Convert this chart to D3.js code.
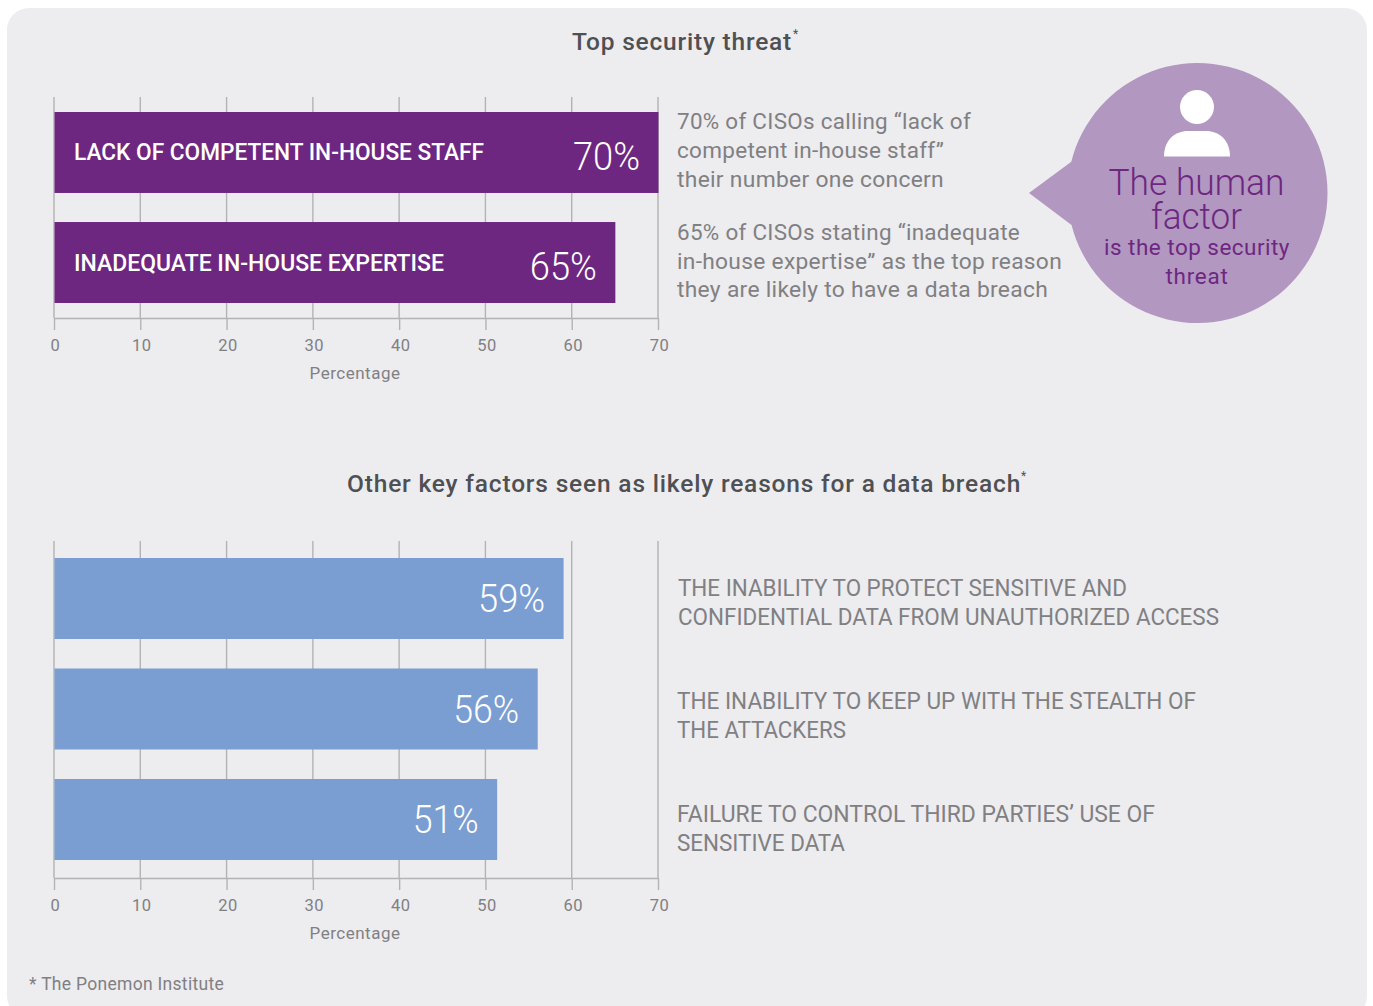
<!DOCTYPE html>
<html><head><meta charset="utf-8">
<script src="https://cdn.jsdelivr.net/npm/d3@7"></script>
<style>html,body{margin:0;padding:0;background:#fff}svg{display:block}text{font-family:Roboto,sans-serif}</style>
</head><body><svg id="c" width="1373" height="1006"></svg>
<script>
const topCategories=["LACK OF COMPETENT IN-HOUSE STAFF","INADEQUATE IN-HOUSE EXPERTISE"];
const topValues=[70,65];
const otherCategories=["THE INABILITY TO PROTECT SENSITIVE AND|CONFIDENTIAL DATA FROM UNAUTHORIZED ACCESS","THE INABILITY TO KEEP UP WITH THE STEALTH OF|THE ATTACKERS","FAILURE TO CONTROL THIRD PARTIES’ USE OF|SENSITIVE DATA"];
const otherValues=[59,56,51.3];
const tickLabels=[0,10,20,30,40,50,60,70];
const topNotes=["70% of CISOs calling “lack of","competent in-house staff”","their number one concern","65% of CISOs stating “inadequate","in-house expertise” as the top reason","they are likely to have a data breach"];

const svg=d3.select("#c");
const grey="#808083",axisCol="#b3b3b3",purple="#6e2780",blue="#7a9dd2",ink="#4f5054";
const x=d3.scaleLinear().domain([0,70]).range([54,658]);

svg.append("rect").attr("x",7).attr("y",8).attr("width",1360).attr("height",1010).attr("rx",22).attr("fill","#edecef");

function txt(s,px,py,size,fill,opt={}){
  const t=svg.append("text").attr("x",px).attr("y",py).attr("font-size",size).attr("fill",fill)
    .attr("text-anchor",opt.anchor||"start").attr("font-weight",opt.weight||400)
    .attr("letter-spacing",opt.ls||0).text(s);
  if(opt.w) t.attr("textLength",opt.w).attr("lengthAdjust",opt.adj||"spacingAndGlyphs");
  return t;
}
function chart(cats,vals,color,y0,y1,pad,gridTop,axisY,inside,pctDy,pctW,labelW){
  const y=d3.scaleBand().domain(cats).range([y0,y1]).paddingInner(pad);
  const g=svg.append("g");
  g.selectAll("line.grid").data(tickLabels).join("line").attr("class","grid")
    .attr("x1",d=>x(d)).attr("x2",d=>x(d)).attr("y1",gridTop).attr("y2",axisY)
    .attr("stroke",axisCol).attr("stroke-width",1.4);
  const ax=g.append("g").attr("transform",`translate(0,${axisY})`)
    .call(d3.axisBottom(x).tickValues(tickLabels).tickSize(12).tickPadding(9).tickSizeOuter(0));
  ax.select(".domain").attr("stroke",axisCol).attr("stroke-width",1.6);
  ax.selectAll("line").attr("stroke",axisCol).attr("stroke-width",1.4);
  ax.selectAll("text").attr("fill",grey).attr("font-size",16.5).attr("font-family","Roboto,sans-serif").attr("letter-spacing",0.5).attr("dx",1);
  g.selectAll("rect").data(vals).join("rect")
    .attr("x",x(0)+0.5).attr("y",(d,i)=>y(cats[i])).attr("height",y.bandwidth())
    .attr("width",d=>x(d)-x(0)).attr("fill",color);
  vals.forEach((v,i)=>{
    const cy=y(cats[i])+y.bandwidth()/2;
    txt(Math.round(v)+"%",x(v)-18,cy+13+pctDy,38,"#fff",{anchor:"end",weight:300,w:pctW[i]});
    if(inside) txt(cats[i],74,cy+8,23,"#fff",{weight:500,w:labelW[i]});
  });
  txt("Percentage",355,axisY+61,17,grey,{anchor:"middle",ls:0.5});
}
// Titles
txt("Top security threat",572,50,24.5,ink,{weight:500,ls:0.75,w:220,adj:"spacing"});
txt("*",793,38,12,ink);
txt("Other key factors seen as likely reasons for a data breach",347,492,24.5,ink,{weight:500,ls:0.75,w:674,adj:"spacing"});
txt("*",1021,480,12,ink);

chart(topCategories,topValues,purple,112,303,0.264,97,318,true,4.5,[67,67],[410,370]);
chart(otherCategories,otherValues,blue,558,860,0.267,541,878,false,0.5,[67,66,66],[]);

// Notes
const noteW=[294,267,267,343,385,371];
[129,158,187,240,269,297].forEach((py,i)=>txt(topNotes[i],677,py-0.5,22.5,grey,{w:noteW[i],ls:0.3}));
const catY=[[597,626],[710,739],[823,852]];
const catW=[[449,541],[519,169],[478,168]];
otherCategories.forEach((c,i)=>c.split("|").forEach((l,j)=>txt(l,i==0?678:677,catY[i][j]-1,23,grey,{w:catW[i][j]})));

// Callout
const bub=d3.path();
const cx=1197.5,cy=193,r=130;
const a1=Math.atan2(161.5-cy,1070-cx),a2=Math.atan2(225-cy,1072-cx);
bub.moveTo(1029,193);bub.lineTo(cx+r*Math.cos(a1),cy+r*Math.sin(a1));
bub.arc(cx,cy,r,a1,a2,false);bub.closePath();
svg.append("path").attr("d",bub.toString()).attr("fill","#b297c1");
svg.append("circle").attr("cx",1197).attr("cy",107).attr("r",17).attr("fill","#fff");
svg.append("path").attr("d","M1164 156.500C1164 140 1175 131 1188 131H1206C1219 131 1230 140 1230 156.500Z").attr("fill","#fff");
txt("The human",1196.500,195,37,purple,{anchor:"middle",weight:300,w:176});
txt("factor",1196.500,229,37,purple,{anchor:"middle",weight:300,w:91});
txt("is the top security",1197,255,22.5,purple,{anchor:"middle",ls:0.5,w:186});
txt("threat",1197,284,22.5,purple,{anchor:"middle",ls:0.75,w:63});

txt("* The Ponemon Institute",29,990,17.5,grey,{ls:0.3,w:195});
</script></body></html>
